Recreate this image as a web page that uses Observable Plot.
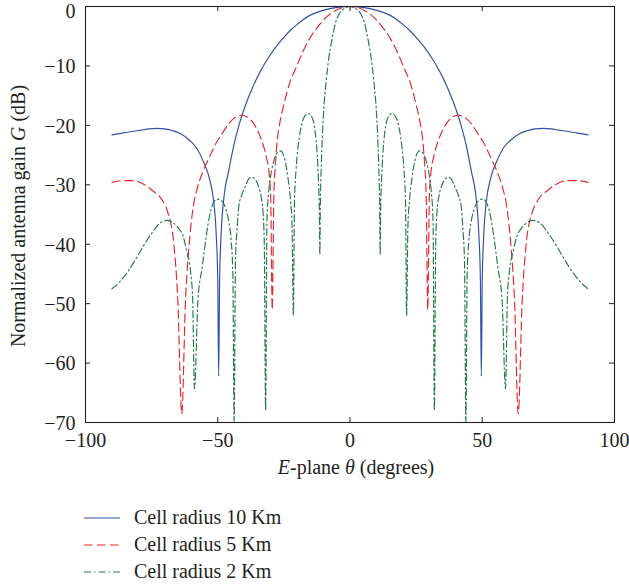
<!DOCTYPE html>
<html>
<head>
<meta charset="utf-8">
<script src="https://cdn.jsdelivr.net/npm/d3@7"></script>
<script src="https://cdn.jsdelivr.net/npm/@observablehq/plot@0.6"></script>
<style>
  html, body { margin: 0; padding: 0; background: #fff; }
  body { width: 629px; height: 588px; overflow: hidden; font-family: "Liberation Serif", "DejaVu Serif", serif; color: #231f20; }
  #chart svg { display: block; }
  #legend { padding: 14px 0 0 84px; font-size: 20px; }
  .row { height: 27px; display: flex; align-items: center; }
  .row svg { width: 36px; height: 10px; margin-right: 14px; flex: none; }
</style>
</head>
<body>
<div id="chart"></div>
<div id="legend"></div>
<script>
// ---- Data (E-plane angle in degrees, normalized gain in dB) ----
const seriesNames = ["Cell radius 10 Km", "Cell radius 5 Km", "Cell radius 2 Km"];
const seriesColors = ["#2f4fa6", "#e8252a", "#23784c"];
const seriesDashes = [null, "8.5,4.5", "7,3,1.5,3"];

const theta10 = [-90,-86,-82,-79,-76,-73,-70,-67,-64,-60.7,-58,-55.6,-53,-51.6,-50.6,-50,-49.65,-49.3,-48.7,-47.5,-46,-44,-42,-40,-37,-34,-31,-28,-25,-22.5,-20,-18,-15,-12,-8,-4,0,4,8,12,15,18,20,22.5,25,28,31,34,37,40,42,44,46,47.5,48.7,49.3,49.65,50,50.6,51.6,53,55.6,58,60.7,64,67,70,73,76,79,82,86,90];
const gain10 = [-21.6,-21.3,-21,-20.8,-20.6,-20.5,-20.6,-20.9,-21.4,-22.5,-23.8,-25.9,-29.2,-32.6,-38.2,-46,-62.2,-46,-38.2,-31.5,-28,-23.5,-20,-17.2,-13.8,-11,-8.7,-6.8,-5.2,-4.0,-3.0,-2.3,-1.45,-0.9,-0.4,-0.1,0,-0.1,-0.4,-0.9,-1.45,-2.3,-3.0,-4.0,-5.2,-6.8,-8.7,-11,-13.8,-17.2,-20,-23.5,-28,-31.5,-38.2,-46,-62.2,-46,-38.2,-32.6,-29.2,-25.9,-23.8,-22.5,-21.4,-20.9,-20.6,-20.5,-20.6,-20.8,-21,-21.3,-21.6];

const theta5 = [-90,-86,-82,-78,-74.6,-71,-69,-66.6,-65.1,-63.6,-62.2,-60.9,-59.2,-57.5,-55.6,-53,-50.5,-48.5,-46,-43.5,-41,-38.5,-36,-33.6,-31.7,-30.6,-30,-29.4,-28.8,-28.2,-27.5,-26.5,-25,-22.9,-20.3,-17.5,-15.3,-13,-11.2,-9,-6,-3,0,3,6,9,11.2,13,15.3,17.5,20.3,22.9,25,26.5,27.5,28.2,28.8,29.4,30,30.6,31.7,33.6,36,38.5,41,43.5,46,48.5,50.5,53,55.6,57.5,59.2,60.9,62.2,63.6,65.1,66.6,69,71,74.6,78,82,86,90];
const gain5 = [-29.6,-29.3,-29.3,-29.9,-31,-32.6,-34.5,-40,-49.5,-68.5,-49.5,-40.5,-33.5,-30.2,-27.8,-25.2,-22.9,-21.5,-19.8,-18.7,-18.3,-18.7,-20,-22.3,-25.2,-28,-32,-51,-32,-26.5,-22.5,-19.5,-16.5,-13,-10.2,-7.3,-5.4,-3.9,-2.9,-1.8,-0.8,-0.2,0,-0.2,-0.8,-1.8,-2.9,-3.9,-5.4,-7.3,-10.2,-13,-16.5,-19.5,-22.5,-26.5,-32,-51,-32,-28,-25.2,-22.3,-20,-18.7,-18.3,-18.7,-19.8,-21.5,-22.9,-25.2,-27.8,-30.2,-33.5,-40.5,-49.5,-68.5,-49.5,-40,-34.5,-32.6,-31,-29.9,-29.3,-29.3,-29.6];

const theta2 = [-90,-87,-84,-81,-78,-75,-72,-69.3,-66.5,-64.5,-63.2,-61.8,-60.3,-59.5,-58.8,-57.5,-55.9,-54.2,-53,-51.8,-50.3,-48.3,-46.8,-45.7,-44.9,-44.3,-43.8,-43.3,-42.7,-42,-41,-39.6,-38.4,-37.2,-36,-34.8,-33.6,-32.9,-32.4,-31.9,-31.4,-30.8,-30,-29,-27.8,-26.3,-24.6,-23.4,-22.5,-21.9,-21.4,-21,-20.4,-19.6,-18.6,-17.3,-15.8,-14.3,-13.2,-12.4,-11.9,-11.6,-11.4,-11.2,-11,-10.6,-10.1,-9,-8,-7,-5.5,-4,-2,
  0,2,4,5.5,7,8,9,10.1,10.6,11,11.2,11.4,11.6,11.9,12.4,13.2,14.3,15.8,17.3,18.6,19.6,20.4,21,21.4,21.9,22.5,23.4,24.6,26.3,27.8,29,30,30.8,31.4,31.9,32.4,32.9,33.6,34.8,36,37.2,38.4,39.6,41,42,42.7,43.3,43.8,44.3,44.9,45.7,46.8,48.3,50.3,51.8,53,54.2,55.9,57.5,58.8,59.5,60.3,61.8,63.2,64.5,66.5,69.3,72,75,78,81,84,87,90];
const gain2 = [-47.5,-46.3,-44.6,-42.5,-40.2,-38.2,-36.5,-36,-36.5,-37.5,-38.5,-41,-44.5,-49,-64.3,-49.5,-43.9,-38.2,-35,-33.2,-32.4,-32.8,-34.3,-36.5,-39.5,-45,-70,-43,-37.5,-33.5,-31.8,-30.3,-29.1,-28.7,-29,-30,-32,-34.5,-40,-68,-36,-31.5,-28.5,-26.3,-24.8,-24.3,-25.8,-29,-32.6,-37,-52,-33,-27.5,-23.5,-20.5,-18.6,-18,-18.7,-21,-25,-29.5,-34,-41.8,-33,-29,-23.5,-18.6,-12.5,-8.6,-6,-2.8,-1.2,-0.3,
  0,-0.3,-1.2,-2.8,-6,-8.6,-12.5,-18.6,-23.5,-29,-33,-41.8,-34,-29.5,-25,-21,-18.7,-18,-18.6,-20.5,-23.5,-27.5,-33,-52,-37,-32.6,-29,-25.8,-24.3,-24.8,-26.3,-28.5,-31.5,-36,-68,-40,-34.5,-32,-30,-29,-28.7,-29.1,-30.3,-31.8,-33.5,-37.5,-43,-70,-45,-39.5,-36.5,-34.3,-32.8,-32.4,-33.2,-35,-38.2,-43.9,-49.5,-64.3,-49,-44.5,-41,-38.5,-37.5,-36.5,-36,-36.5,-38.2,-40.2,-42.5,-44.6,-46.3,-47.5];

const xTicks = [-100, -50, 0, 50, 100];
const yTicks = [0, -10, -20, -30, -40, -50, -60, -70];
const xTitle = ["E", "-plane ", "θ", " (degrees)"];
const yTitle = ["Normalized antenna gain ", "G", " (dB)"];

// ---- Build ----
const W = 629, H = 490;
const mL = 85, mR = 15, mT = 6, mB = 68;
const fw = W - mL - mR, fh = H - mT - mB, tl = 5;
const ink = "#231f20";

const zip = (t, g) => t.map((v, i) => ({theta: v, gain: g[i]}));
const sets = [zip(theta10, gain10), zip(theta5, gain5), zip(theta2, gain2)];

const lineMarks = sets.map((d, i) => Plot.line(d, {
  x: "theta", y: "gain", stroke: seriesColors[i], strokeWidth: 1.15,
  strokeDasharray: seriesDashes[i] ?? undefined, curve: "monotone-x", clip: true
}));

const plot = Plot.plot({
  width: W, height: H,
  marginLeft: mL, marginRight: mR, marginTop: mT, marginBottom: mB,
  style: {fontFamily: '"Liberation Serif", "DejaVu Serif", serif', fontSize: "20px", color: ink, background: "#fff", overflow: "visible"},
  x: {domain: [-100, 100]},
  y: {domain: [-70, 0]},
  marks: [
    ...lineMarks,
    Plot.frame({stroke: ink, strokeWidth: 1.1}),
    Plot.tickX(xTicks, {x: d => d, insetTop: fh - tl, stroke: ink}),
    Plot.tickX(xTicks, {x: d => d, insetBottom: fh - tl, stroke: ink}),
    Plot.tickY(yTicks, {y: d => d, insetRight: fw - tl, stroke: ink}),
    Plot.tickY(yTicks, {y: d => d, insetLeft: fw - tl, stroke: ink}),
    Plot.axisX({ticks: xTicks, tickSize: 0, tickPadding: 10, label: null, fill: ink}),
    Plot.axisY({ticks: yTicks.filter(t => t !== 0), tickSize: 0, tickPadding: 10, label: null, fill: ink, dy: 1}),
    Plot.axisY({ticks: yTicks.filter(t => t === 0), tickSize: 0, tickPadding: 10, label: null, fill: ink, dy: 5.5})
  ]
});
document.getElementById("chart").appendChild(plot);

const svg = d3.select(plot);
const xt = svg.append("text").attr("x", 356).attr("y", 474).attr("text-anchor", "middle").attr("fill", ink);
xTitle.forEach((s, i) => xt.append("tspan").attr("font-style", (i === 0 || i === 2) ? "italic" : "normal").text(s));
const yt = svg.append("text").attr("transform", "translate(25,216) rotate(-90)").attr("text-anchor", "middle").attr("fill", ink);
yTitle.forEach((s, i) => yt.append("tspan").attr("font-style", i === 1 ? "italic" : "normal").text(s));

// ---- Legend (below the SVG) ----
const legend = d3.select("#legend");
seriesNames.forEach((name, i) => {
  const row = legend.append("div").attr("class", "row");
  const s = row.append("svg").attr("viewBox", "0 0 36 10");
  s.append("line").attr("x1", 0).attr("x2", 36).attr("y1", 5).attr("y2", 5)
    .attr("stroke", seriesColors[i]).attr("stroke-width", 1.15)
    .attr("stroke-dasharray", seriesDashes[i]);
  row.append("span").text(name);
});
</script>
</body>
</html>
